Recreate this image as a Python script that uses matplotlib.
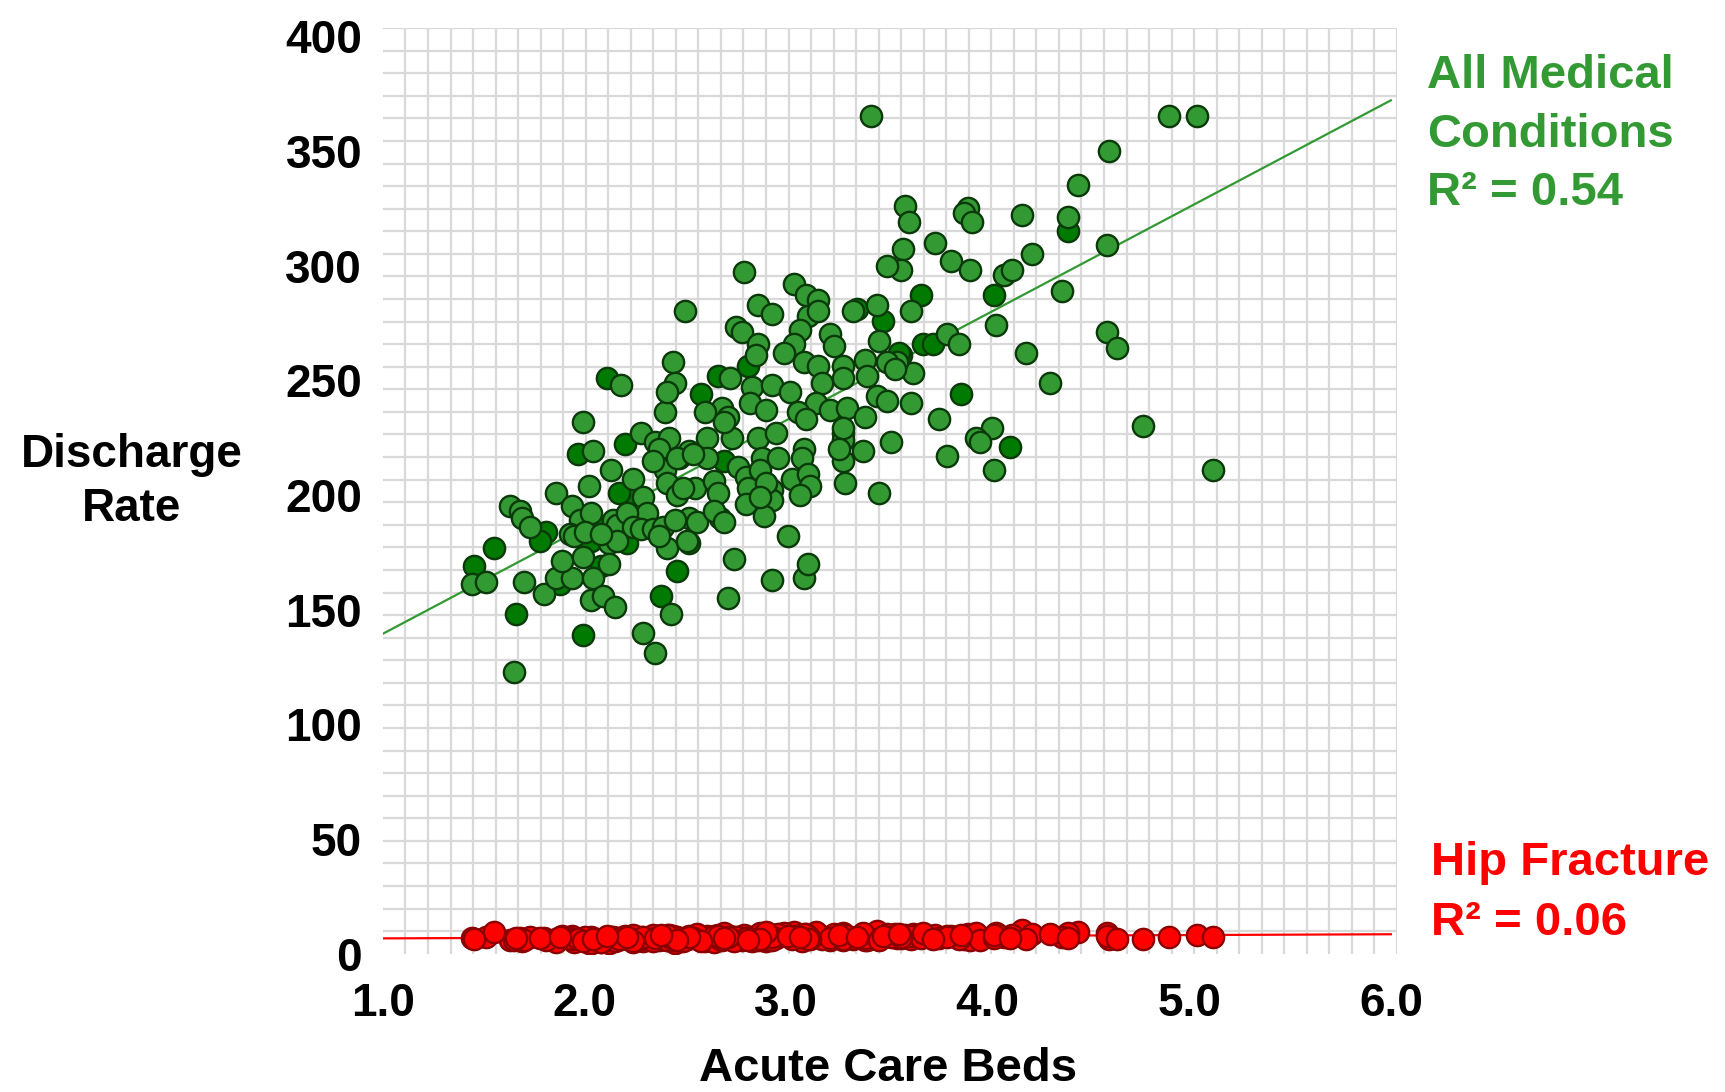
"""Discharge rate against acute care beds, all medical conditions vs hip fracture."""

import matplotlib
import numpy as np

matplotlib.use("Agg")
import matplotlib.pyplot as plt  # noqa: E402

# Acute care beds per region (x) with the two discharge rates.
# Regions whose green marker is drawn in the darker shade are kept apart.
beds_light = [
    3.42, 4.90, 5.04, 4.60, 4.45, 3.59, 3.61, 3.90, 3.88, 3.92,
    4.17, 4.40, 4.59, 3.58, 3.74, 3.57, 3.82, 3.91, 4.22, 4.08,
    4.12, 3.62, 4.37, 4.04, 3.80, 3.86, 3.63, 3.55, 4.19, 4.59,
    4.64, 4.31, 3.62, 3.76, 4.02, 3.94, 3.96, 4.77, 3.80, 4.03,
    5.12, 2.79, 3.50, 3.04, 3.10, 3.16, 2.86, 2.93, 2.50, 3.11,
    3.16, 3.33, 3.45, 2.75, 2.78, 3.07, 3.04, 3.22, 3.24, 2.86,
    2.85, 2.99, 3.46, 2.72, 2.83, 2.93, 3.09, 3.16, 3.28, 3.39,
    3.50, 3.54, 3.40, 3.02, 3.18, 3.28, 2.82, 2.90, 3.15, 3.22,
    3.30, 3.45, 3.50, 2.68, 2.71, 2.60, 3.06, 3.10, 3.39, 2.61,
    2.73, 2.86, 2.95, 3.28, 3.28, 3.38, 3.28, 3.52, 2.47, 2.52,
    2.61, 2.88, 2.96, 3.09, 3.08, 2.76, 2.80, 2.87, 3.03, 3.11,
    3.12, 2.55, 2.64, 2.66, 2.81, 2.93, 3.29, 3.46, 2.80, 2.93,
    2.52, 2.67, 2.89, 1.99, 2.40, 2.04, 2.28, 2.35, 2.42, 2.37,
    2.13, 2.02, 1.86, 1.94, 1.63, 1.68, 1.69, 1.73, 1.98, 2.03,
    1.93, 1.95, 2.14, 2.16, 2.24, 2.29, 2.31, 2.21, 2.24, 2.28,
    2.12, 2.40, 2.46, 2.34, 2.34, 2.39, 2.41, 2.45, 2.37, 2.51,
    2.56, 2.41, 2.46, 2.49, 2.54, 2.64, 2.69, 2.69, 2.74, 2.71,
    2.43, 2.29, 1.70, 1.80, 1.44, 1.51, 1.86, 1.94, 1.89, 1.99,
    2.04, 2.12, 2.03, 2.09, 2.15, 2.16, 2.00, 2.08, 2.18, 2.44,
    2.45, 2.41, 1.65, 2.35, 2.93, 3.09, 3.11, 3.01, 2.90, 2.87,
    3.07, 3.28, 3.26,
]
medical_light = [
    365, 365, 365, 350, 335, 326, 319, 325, 323, 319,
    322, 321, 309, 307, 310, 298, 302, 298, 305, 296,
    298, 280, 289, 274, 270, 266, 253, 258, 262, 271,
    264, 249, 240, 233, 229, 225, 223, 230, 217, 211,
    211, 297, 300, 292, 287, 285, 283, 279, 280, 278,
    280, 280, 283, 273, 271, 272, 266, 270, 265, 266,
    261, 262, 267, 251, 247, 248, 258, 256, 256, 259,
    258, 255, 252, 245, 249, 251, 240, 237, 240, 237,
    238, 243, 241, 238, 234, 236, 236, 233, 234, 225,
    225, 225, 227, 227, 224, 219, 215, 223, 216, 219,
    216, 216, 216, 220, 216, 212, 208, 211, 207, 209,
    204, 203, 206, 201, 203, 202, 205, 201, 196, 198,
    190, 190, 191, 232, 236, 219, 227, 223, 225, 220,
    211, 204, 201, 195, 195, 193, 190, 186, 189, 192,
    183, 182, 189, 187, 207, 199, 192, 192, 186, 185,
    179, 211, 216, 215, 185, 186, 177, 189, 182, 180,
    188, 205, 200, 203, 218, 193, 188, 232, 172, 155,
    148, 140, 162, 157, 161, 162, 164, 164, 171, 173,
    164, 170, 154, 156, 151, 180, 184, 183, 248, 258,
    249, 245, 123, 131, 163, 164, 170, 182, 205, 199,
    200, 229, 220,
]
hip_light = [
    7.5, 7.3, 8.1, 6.3, 9.5, 8.0, 7.0, 8.5, 6.5, 7.8,
    10.3, 9.0, 9.2, 7.2, 8.3, 6.8, 7.6, 6.2, 8.8, 7.4,
    8.0, 6.5, 7.1, 9.0, 7.9, 6.6, 8.4, 7.0, 6.4, 7.8,
    6.5, 8.6, 7.7, 6.9, 7.2, 8.9, 6.1, 6.4, 7.5, 6.8,
    7.3, 8.2, 7.9, 9.4, 6.6, 7.1, 5.9, 8.0, 6.7, 7.4,
    8.7, 6.3, 10.0, 7.2, 6.0, 8.1, 7.6, 5.8, 8.4, 6.9,
    7.0, 9.1, 6.5, 7.7, 5.6, 8.3, 6.8, 7.3, 9.0, 6.2,
    7.9, 8.5, 6.1, 7.4, 6.6, 8.0, 7.2, 5.5, 9.3, 6.9,
    7.6, 6.3, 8.8, 6.0, 7.8, 5.4, 7.1, 8.6, 6.7, 7.5,
    6.2, 8.1, 7.0, 5.9, 7.7, 8.9, 6.4, 7.3, 5.7, 6.9,
    7.9, 6.0, 8.4, 7.1, 5.6, 7.5, 6.8, 9.2, 6.3, 7.8,
    6.6, 7.2, 5.3, 8.0, 6.9, 7.4, 8.2, 6.1, 7.0, 5.8,
    7.7, 6.4, 8.7, 6.2, 7.9, 5.2, 7.1, 6.6, 8.3, 5.9,
    7.3, 4.8, 6.5, 7.6, 5.8, 6.9, 5.5, 7.2, 6.0, 4.6,
    6.7, 5.1, 7.4, 6.2, 8.0, 5.7, 6.8, 7.5, 5.0, 6.4,
    5.9, 7.0, 6.3, 8.2, 5.6, 7.7, 6.1, 4.9, 7.2, 6.6,
    8.5, 6.0, 7.3, 5.5, 6.9, 7.8, 6.4, 8.9, 5.7, 7.1,
    6.8, 7.4, 6.2, 7.0, 7.0, 7.2, 5.3, 6.6, 7.9, 5.8,
    6.9, 4.5, 7.5, 6.1, 5.4, 6.7, 7.3, 5.2, 6.4, 7.6,
    6.0, 8.1, 5.9, 6.8, 7.2, 8.5, 6.3, 7.7, 9.6, 6.6,
    7.4, 6.5, 8.0,
]

beds_dark = [
    3.48, 3.67, 4.03, 4.40, 3.68, 3.73, 3.57, 3.87, 4.11, 3.35,
    3.56, 2.81, 2.66, 2.58, 2.69, 1.97, 2.20, 2.24, 2.17, 2.21,
    1.81, 1.78, 2.03, 2.52, 2.46, 2.38, 1.99, 1.66, 1.55, 1.45,
    1.88, 2.08, 2.04, 2.11,
]
medical_dark = [
    276, 287, 287, 315, 266, 266, 261, 244, 221, 281,
    262, 256, 252, 244, 215, 218, 222, 201, 201, 179,
    184, 180, 180, 179, 167, 156, 139, 148, 177, 169,
    161, 169, 187, 251,
]
hip_dark = [
    7.8, 6.9, 8.3, 7.0, 9.1, 6.4, 7.5, 8.0, 6.7, 7.3,
    8.6, 6.2, 7.9, 5.7, 7.0, 6.3, 7.8, 5.4, 6.6, 7.4,
    5.9, 6.8, 4.7, 7.2, 6.1, 8.0, 5.6, 6.9, 9.4, 6.5,
    7.1, 5.0, 6.4, 7.6,
]

# Trend lines, end values as drawn on the chart
trend_beds = [1.0, 6.0]
medical_trend = [139.5, 372.0]
hip_trend = [6.7, 8.5]

x_ticks = [1.0, 2.0, 3.0, 4.0, 5.0, 6.0]
y_ticks = [0, 50, 100, 150, 200, 250, 300, 350, 400]

GREEN = "#339933"
GREEN_DARK = "#007a00"
GREEN_EDGE = "#0a3a0a"
RED = "#ff0000"
RED_EDGE = "#8b0000"

plt.rcParams["font.family"] = ["Liberation Sans", "DejaVu Sans"]
plt.rcParams["font.weight"] = "bold"

fig = plt.figure(figsize=(17.25, 10.92), dpi=100)
ax = fig.add_axes([0.2220, 0.1266, 0.5878, 0.8477])

x_min, x_max = 1.0, 6.03
y_min, y_max = 0.0, 403.5
ax.set_xlim(x_min, x_max)
ax.set_ylim(y_min, y_max)

# graph-paper background, not tied to the tick values
ax.set_xticks(np.linspace(x_min, x_max, 46), minor=True)
ax.set_yticks(np.linspace(y_min, y_max, 42), minor=True)
ax.grid(which="minor", color="#d9d9d9", linewidth=1.6)
ax.grid(which="major", visible=False)
ax.set_axisbelow(True)
for spine in ax.spines.values():
    spine.set_visible(False)

ax.set_xticks(x_ticks)
ax.set_xticklabels([f"{v:.1f}" for v in x_ticks])
ax.set_yticks(y_ticks)
ax.set_yticklabels([str(v) for v in y_ticks])
ax.tick_params(axis="both", which="both", length=0, labelsize=33)
ax.tick_params(axis="x", pad=20)
ax.tick_params(axis="y", pad=15)

ax.plot(trend_beds, medical_trend, color=GREEN, linewidth=1.6, zorder=2)
ax.plot(trend_beds, hip_trend, color=RED, linewidth=1.6, zorder=2)

marker_size = 235
ax.scatter(beds_dark, medical_dark, s=marker_size, facecolor=GREEN_DARK,
           edgecolor=GREEN_EDGE, linewidth=1.7, zorder=3)
ax.scatter(beds_light, medical_light, s=marker_size, facecolor=GREEN,
           edgecolor=GREEN_EDGE, linewidth=1.7, zorder=3)
ax.scatter(beds_light + beds_dark, hip_light + hip_dark, s=marker_size,
           facecolor=RED, edgecolor=RED_EDGE, linewidth=1.7, zorder=3)

fig.text(0.0765, 0.6038, "Discharge\nRate", ha="center", va="top",
         multialignment="center", fontsize=33, linespacing=1.29)
fig.text(0.5151, 0.0101, "Acute Care Beds", ha="center", va="baseline",
         fontsize=34)

fig.text(0.8272, 0.9502, "All Medical\nConditions\nR\u00b2 = 0.54",
         ha="left", va="top", fontsize=34, color=GREEN, linespacing=1.42)
fig.text(0.8296, 0.2296, "Hip Fracture\nR\u00b2 = 0.06",
         ha="left", va="top", fontsize=34, color=RED, linespacing=1.45)

fig.savefig("out.png", dpi=100)
plt.close(fig)
